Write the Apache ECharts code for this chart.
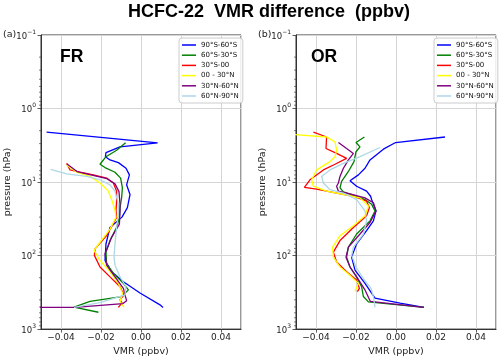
<!DOCTYPE html>
<html><head><meta charset="utf-8">
<script src="https://cdn.jsdelivr.net/npm/echarts@6/dist/echarts.min.js"></script>
<style>html,body{margin:0;padding:0;background:#fff}#c{width:500px;height:362px}</style>
</head><body><div id="c"></div>
<script>
// ---------- data ----------
const regionNames = ['90°S-60°S', '60°S-30°S', '30°S-00', '00 - 30°N', '30°N-60°N', '60°N-90°N'];
const panelLabels = ['FR', 'OR'];
const minorTickPressures = [0.2,0.3,0.4,0.5,0.6,0.7,0.8,0.9, 2,3,4,5,6,7,8,9, 20,30,40,50,60,70,80,90, 200,300,400,500,600,700,800,900];

// FR panel: [VMR difference (ppbv), pressure (hPa)]
const fr_90S_60S = [[-0.0472,2.09],[0.0083,2.93],[-0.0105,3.32],[-0.0175,3.99],[-0.0178,4.52],[-0.0155,5.0],[-0.0113,5.44],[-0.0075,6.49],[-0.0058,7.98],[-0.0072,10.9],[-0.0055,14.8],[-0.0068,22.3],[-0.0095,30],[-0.0155,41.4],[-0.0175,69],[-0.018,116],[-0.0147,166],[-0.0088,227],[-0.0005,323],[0.0095,468],[0.011,507]];
const fr_60S_30S = [[-0.0077,2.93],[-0.0122,3.69],[-0.0175,4.52],[-0.0205,5.73],[-0.018,6.35],[-0.013,7.35],[-0.0102,8.83],[-0.0093,12.0],[-0.0097,16.4],[-0.0105,22.4],[-0.0108,30.4],[-0.0122,41.4],[-0.0155,62.5],[-0.0175,89.7],[-0.0172,129],[-0.0138,175],[-0.0088,239],[-0.0063,293],[-0.0097,361],[-0.0255,421],[-0.0335,501],[-0.0213,590]];
const fr_30S_00 = [[-0.0372,5.56],[-0.0355,6.84],[-0.0305,7.35],[-0.0238,7.98],[-0.0172,8.83],[-0.0138,10.3],[-0.0122,13.3],[-0.0122,18.2],[-0.0125,24.7],[-0.0122,30.4],[-0.0172,53.6],[-0.023,81.1],[-0.0233,99.3],[-0.0205,143],[-0.0155,195],[-0.0105,265],[-0.0085,342],[-0.0105,400],[-0.0095,440],[-0.0113,507]];
const fr_00_30N = [[-0.0372,5.85],[-0.0322,7.35],[-0.0255,8.39],[-0.0205,10.3],[-0.0163,13.3],[-0.0147,17.3],[-0.013,24],[-0.0125,30],[-0.0155,43.7],[-0.0205,65.9],[-0.0235,85],[-0.0205,116],[-0.0155,166],[-0.0113,239],[-0.0092,325],[-0.0105,421],[-0.0085,507]];
const fr_30N_60N = [[-0.037,5.7],[-0.032,7.2],[-0.024,8.1],[-0.017,9.0],[-0.013,10.6],[-0.011,13.5],[-0.0105,20],[-0.0105,24.7],[-0.0108,37.4],[-0.0147,56.5],[-0.018,94.6],[-0.0172,135],[-0.013,195],[-0.0088,279],[-0.008,342],[-0.0072,410],[-0.009,450],[-0.033,507],[-0.09,509]];
const fr_60N_90N = [[-0.0452,6.7],[-0.0372,7.74],[-0.0272,8.39],[-0.0205,9.31],[-0.0155,10.9],[-0.013,13.3],[-0.0113,20],[-0.0113,27.4],[-0.0122,41.4],[-0.013,69.2],[-0.0135,105],[-0.013,135],[-0.0105,195],[-0.0075,265],[-0.008,342],[-0.0205,435],[-0.0335,507]];

// OR panel
const or_90S_60S = [[0.0245,2.44],[-0.0002,2.9],[-0.0063,3.57],[-0.013,5.0],[-0.0155,6.49],[-0.0188,7.98],[-0.023,9.59],[-0.0197,11.4],[-0.0147,13.3],[-0.0127,15.6],[-0.0122,17.3],[-0.01,24.7],[-0.0113,33.7],[-0.0147,45.9],[-0.0197,69.2],[-0.0222,105],[-0.0205,158],[-0.0155,239],[-0.0122,325],[-0.0105,380],[0.002,444],[0.014,507]];
const or_60S_30S = [[-0.0158,2.44],[-0.02,2.9],[-0.018,3.32],[-0.02,3.87],[-0.021,5.27],[-0.0238,7.18],[-0.0272,9.77],[-0.028,12.0],[-0.0263,13.6],[-0.0197,15.6],[-0.0155,17.3],[-0.0122,20.1],[-0.0105,24.7],[-0.013,33.7],[-0.0197,50.9],[-0.0238,76.9],[-0.0247,105],[-0.023,143],[-0.0197,195],[-0.0172,265],[-0.0163,361],[-0.0138,427],[0.014,505]];
const or_30S_00 = [[-0.0413,2.09],[-0.0347,2.44],[-0.035,3.5],[-0.0297,4.08],[-0.0247,4.76],[-0.0305,5.73],[-0.0363,6.84],[-0.043,9.31],[-0.0458,11.8],[-0.0397,12.5],[-0.0297,14.1],[-0.0213,15.6],[-0.0147,18.2],[-0.0133,22.3],[-0.0147,28.8],[-0.0213,41.4],[-0.028,62.5],[-0.0313,89.7],[-0.0297,122],[-0.0247,166],[-0.0197,215],[-0.0183,279],[-0.0193,309]];
const or_00_30N = [[-0.055,2.22],[-0.0347,2.44],[-0.0305,2.84],[-0.0297,3.68],[-0.0305,4.52],[-0.033,5.27],[-0.0397,6.84],[-0.0422,9.31],[-0.0413,11.4],[-0.0347,13.3],[-0.0247,15.0],[-0.018,16.4],[-0.0138,21.2],[-0.0155,28.8],[-0.0213,39.4],[-0.028,53.6],[-0.0317,76.9],[-0.0313,105],[-0.028,143],[-0.023,185],[-0.0188,239],[-0.0205,309]];
const or_30N_60N = [[-0.0288,2.9],[-0.0247,3.5],[-0.0213,4.08],[-0.0238,5.0],[-0.0263,6.49],[-0.028,8.39],[-0.0288,10.3],[-0.0297,11.4],[-0.0288,13.3],[-0.023,14.5],[-0.0155,16.4],[-0.0113,19.1],[-0.01,24.7],[-0.013,35.5],[-0.018,50.9],[-0.0238,76.9],[-0.025,105],[-0.023,143],[-0.0197,195],[-0.0155,293],[-0.0128,421],[0.014,507]];
const or_60N_90N = [[-0.008,3.39],[-0.018,4.52],[-0.0263,5.56],[-0.033,6.84],[-0.0372,8.39],[-0.0363,10.3],[-0.033,12.7],[-0.0263,14.1],[-0.0197,17.3],[-0.0155,24.7],[-0.0147,33.7],[-0.0163,50.9],[-0.0213,76.9],[-0.0222,99.3],[-0.02,143],[-0.0158,215],[-0.0125,279],[-0.0113,361],[-0.0105,507]];

const panelData = [
  [fr_90S_60S, fr_60S_30S, fr_30S_00, fr_00_30N, fr_30N_60N, fr_60N_90N],
  [or_90S_60S, or_60S_30S, or_30S_00, or_00_30N, or_30N_60N, or_60N_90N]
];

// ---------- style ----------
const colors = ['#0000ff', '#008000', '#ff0000', '#ffff00', '#800080', '#add8e6'];
const X_MIN = -0.05, X_MAX = 0.05;
const FONT = 'DejaVu Sans';
const TFONT = 'Liberation Sans';
const gridLefts = [41, 296];

const grids = gridLefts.map(l => ({left: l, top: 35, width: 200, height: 298, show: true, borderColor: '#333', borderWidth: 1, backgroundColor: 'transparent'}));

const xAxes = gridLefts.map((l, i) => ({
  type: 'value', gridIndex: i, min: X_MIN, max: X_MAX, splitNumber: 5,
  axisLine: {show: true, onZero: false, lineStyle: {color: '#333', width: 1}},
  axisTick: {show: true, inside: false, length: 3.5, lineStyle: {color: '#333', width: 0.8}},
  axisLabel: {showMinLabel: false, showMaxLabel: false, fontSize: 9, fontFamily: FONT, color: '#222', margin: 4,
    formatter: v => (v < -1e-9 ? '\u2212' : '') + Math.abs(v).toFixed(2)},
  splitLine: {show: true, lineStyle: {color: '#d5d5d5', width: 1}},
  name: 'VMR (ppbv)', nameLocation: 'middle', nameGap: 15,
  nameTextStyle: {fontSize: 9.5, fontFamily: FONT, color: '#222'}
}));

const yAxes = gridLefts.map((l, i) => ({
  type: 'log', logBase: 10, gridIndex: i, min: 0.1, max: 1000, inverse: true,
  axisLine: {show: true, onZero: false, lineStyle: {color: '#333', width: 1}},
  axisTick: {show: true, inside: false, length: 3.5, lineStyle: {color: '#333', width: 0.8}},
  axisLabel: {margin: 5, color: '#222', fontFamily: FONT,
    formatter: v => {
      const e = Math.round(Math.log10(v));
      return '{b|10}{s|' + (e < 0 ? '\u2212' + (-e) : e) + '}';
    },
    rich: {
      b: {fontSize: 8.5, fontFamily: FONT, color: '#222', lineHeight: 12, verticalAlign: 'bottom'},
      s: {fontSize: 6, fontFamily: FONT, color: '#222', lineHeight: 7, verticalAlign: 'top'}
    }},
  splitLine: {show: true, lineStyle: {color: '#d5d5d5', width: 1}},
  name: 'pressure (hPa)', nameLocation: 'middle', nameGap: 21, nameRotate: 90,
  nameTextStyle: {fontSize: 9.5, fontFamily: FONT, color: '#222'}
}));

const series = [];
panelData.forEach((sets, pi) => {
  sets.forEach((d, si) => {
    series.push({
      type: 'line', name: regionNames[si], xAxisIndex: pi, yAxisIndex: pi,
      data: d, symbol: 'none', showSymbol: false, clip: true,
      color: colors[si], lineStyle: {color: colors[si], width: 1.3},
      emphasis: {disabled: true}, animation: false
    });
  });
  series.push({
    type: 'custom', xAxisIndex: pi, yAxisIndex: pi, silent: true, clip: false, animation: false,
    data: minorTickPressures.map(p => [X_MIN, p]),
    encode: {x: 0, y: 1},
    renderItem: (params, api) => {
      const pt = api.coord([api.value(0), api.value(1)]);
      return {type: 'line', shape: {x1: pt[0] - 2, y1: pt[1], x2: pt[0], y2: pt[1]},
        style: {stroke: '#333', lineWidth: 0.6}};
    }
  });
});

const legendBase = {
  orient: 'vertical', top: 38, data: regionNames, icon: 'rect', itemWidth: 14, itemHeight: 1.5, itemGap: 2.2,
  padding: [3, 4, 3, 3], backgroundColor: 'rgba(255,255,255,0.85)', borderColor: '#cccccc', borderWidth: 1, borderRadius: 3,
  textStyle: {fontSize: 7, fontFamily: FONT, color: '#111', lineHeight: 8}, selectedMode: false
};

const option = {
  animation: false,
  backgroundColor: '#fff',
  title: [
    {text: 'HCFC-22  VMR difference  (ppbv)', left: 128, top: 3, padding: 0,
      textStyle: {fontSize: 18, fontWeight: 'bold', fontFamily: TFONT, color: '#000'}},
    {text: '(a)', left: 3, top: 30, padding: 0, textStyle: {fontSize: 9.5, fontWeight: 'normal', fontFamily: FONT, color: '#222'}},
    {text: '(b)', left: 258, top: 30, padding: 0, textStyle: {fontSize: 9.5, fontWeight: 'normal', fontFamily: FONT, color: '#222'}},
    {text: panelLabels[0], left: 60, top: 48, padding: 0, textStyle: {fontSize: 17.5, fontWeight: 'bold', fontFamily: TFONT, color: '#000'}},
    {text: panelLabels[1], left: 311, top: 48, padding: 0, textStyle: {fontSize: 17.5, fontWeight: 'bold', fontFamily: TFONT, color: '#000'}}
  ],
  legend: [Object.assign({left: 179}, legendBase), Object.assign({left: 434}, legendBase)],
  grid: grids,
  xAxis: xAxes,
  yAxis: yAxes,
  series: series
};

const chart = echarts.init(document.getElementById('c'), null, {renderer: 'canvas'});
chart.setOption(option);
</script>
</body></html>
